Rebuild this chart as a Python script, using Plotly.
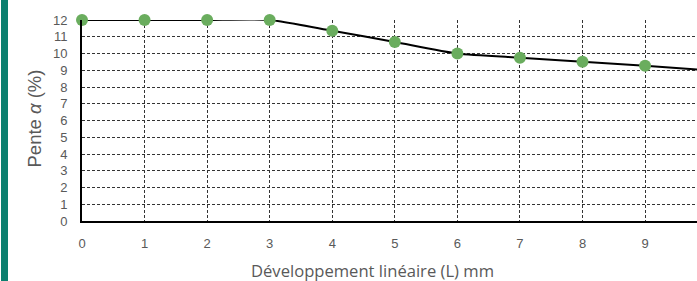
import plotly.graph_objects as go

x_vals = [0, 1, 2, 3, 4, 5, 6, 7, 8, 9, 10]
pente = [12, 12, 12, 12, 11.36, 10.69, 10.0, 9.75, 9.51, 9.27, 9.0]
x_ticks = [0, 1, 2, 3, 4, 5, 6, 7, 8, 9]
y_ticks = list(range(0, 13))

fig = go.Figure()
fig.add_trace(go.Scatter(
    x=x_vals, y=pente, mode="lines",
    line=dict(color="black", width=2, shape="spline", smoothing=0.6),
    showlegend=False, cliponaxis=False,
))
fig.add_trace(go.Scatter(
    x=x_vals[:10], y=pente[:10], mode="markers",
    marker=dict(color="#6aad5e", size=12, line=dict(width=0)),
    showlegend=False, cliponaxis=False,
))

fig.add_shape(type="rect", xref="paper", yref="paper", xsizemode="pixel",
              xanchor=0, x0=-81, x1=-74, y0=-2, y1=3,
              fillcolor="#0b7f6f", line=dict(width=0), layer="above")

font_tick = dict(family="Liberation Sans, Arial", size=13, color="#595959")
fig.add_annotation(text="Développement linéaire (L) mm", xref="paper", yref="paper",
                   x=0.472, y=0, yshift=-49, xanchor="center", yanchor="middle",
                   showarrow=False, borderpad=0,
                   font=dict(family="Open Sans", size=16.6, color="#595959"))
fig.add_annotation(text="Pente <i>α</i> (%)", xref="paper", yref="paper",
                   x=0, xshift=-48, y=0.51, xanchor="center", yanchor="middle",
                   textangle=-90, showarrow=False, borderpad=0,
                   font=dict(family="Liberation Sans, Arial", size=18.5, color="#595959"))

fig.update_layout(
    width=697, height=281,
    margin=dict(l=82, r=0, t=20, b=60),
    paper_bgcolor="white", plot_bgcolor="white",
    xaxis=dict(range=[0, 9.83], tickvals=x_ticks, ticktext=[str(v) for v in x_ticks],
               showgrid=True, gridcolor="#333333", griddash="3px,2px", gridwidth=1,
               showline=True, linecolor="black", linewidth=2, zeroline=False,
               tickfont=font_tick, ticks="", ticklabelstandoff=9, automargin=False),
    yaxis=dict(range=[0, 12], tickvals=y_ticks, ticktext=[str(v) for v in y_ticks],
               showgrid=True, gridcolor="#333333", griddash="3px,2px", gridwidth=1,
               showline=True, linecolor="black", linewidth=2, zeroline=False,
               tickfont=font_tick, ticks="", ticklabelstandoff=10, automargin=False),
)
fig.write_html("out.html", config={"displayModeBar": False},
               post_script="document.body.style.margin='0';document.body.style.overflow='hidden';")
